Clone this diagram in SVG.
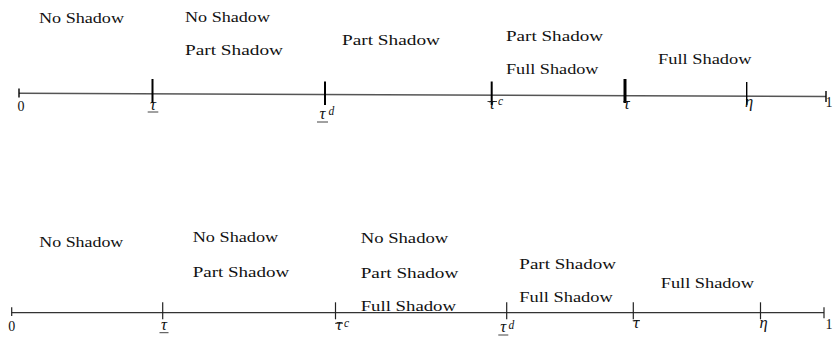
<svg xmlns="http://www.w3.org/2000/svg" width="833" height="344" viewBox="0 0 833 344">
<style>
text{font-family:"Liberation Serif","Times New Roman","DejaVu Serif",serif;fill:#111}
.t{font-size:15.5px}
.n{font-size:14px}
.m{font-style:italic;font-size:16.5px}
.s{font-style:italic;font-size:11.5px}
.ax{stroke:#555;stroke-width:1.6;fill:none}
.ax2{stroke:#333;stroke-width:1.3;fill:none}
.tk{stroke:#000;stroke-width:2}
.tk2{stroke:#222;stroke-width:1.2}
.dec{stroke:#111;stroke-width:0.8}
</style>
<rect width="833" height="344" fill="#fff"/>
<g id="connectors">
  <line class="ax" x1="19" y1="93.3" x2="826" y2="96.5"/>
  <line class="tk" x1="19" y1="88.5" x2="19" y2="97.5" style="stroke-width:1.4"/>
  <line class="tk" x1="826" y1="91" x2="826" y2="102" style="stroke-width:1.4"/>
  <line class="tk" x1="152.5" y1="79" x2="152.5" y2="103"/>
  <line class="tk" x1="325" y1="81.5" x2="325" y2="105"/>
  <line class="tk" x1="491.7" y1="81.5" x2="491.7" y2="105"/>
  <line class="tk" x1="625" y1="79" x2="625" y2="103" style="stroke-width:3"/>
  <line class="tk" x1="746.7" y1="82" x2="746.7" y2="105" style="stroke-width:1.4"/>
  <line class="ax2" x1="11.7" y1="312.7" x2="824" y2="312.7"/>
  <line class="tk2" x1="11.7" y1="307.3" x2="11.7" y2="316"/>
  <line class="tk2" x1="824" y1="307.3" x2="824" y2="318.3"/>
  <line class="tk2" x1="162.7" y1="302.3" x2="162.7" y2="319.3"/>
  <line class="tk2" x1="335.5" y1="302.3" x2="335.5" y2="319.3"/>
  <line class="tk2" x1="506.7" y1="302.3" x2="506.7" y2="319.3"/>
  <line class="tk2" x1="633.3" y1="302.3" x2="633.3" y2="319.3"/>
  <line class="tk2" x1="760.5" y1="302.3" x2="760.5" y2="319.3"/>
</g>
<g id="top-axis-labels">
  <text class="n" x="17.5" y="111">0</text>
  <g id="top-tau-low"><text class="m" x="153" y="109.5" text-anchor="middle">τ</text><line class="dec" x1="147.7" y1="112" x2="158.3" y2="112"/></g>
  <g id="top-tau-d"><text class="m" x="322.5" y="119" text-anchor="middle">τ</text><text class="s" x="328.5" y="115">d</text><line class="dec" x1="317" y1="122" x2="328" y2="122"/></g>
  <g id="top-taubar-c"><text class="m" x="492" y="108.5" text-anchor="middle">τ</text><text class="s" x="498" y="105">c</text><line class="dec" x1="487.5" y1="101.5" x2="497" y2="101.5"/></g>
  <g id="top-taubar"><text class="m" x="626.7" y="108.5" text-anchor="middle">τ</text><line class="dec" x1="623.3" y1="101.5" x2="630" y2="101.5"/></g>
  <text class="m" x="749" y="106.5" text-anchor="middle">η</text>
  <text class="n" x="825.5" y="106.5">1</text>
</g>
<g id="top-regions">
  <g id="top-r1"><text class="t" x="39" y="23.3" textLength="85" lengthAdjust="spacingAndGlyphs">No Shadow</text></g>
  <g id="top-r2"><text class="t" x="185" y="21.5" textLength="85" lengthAdjust="spacingAndGlyphs">No Shadow</text><text class="t" x="185" y="54.5" textLength="98" lengthAdjust="spacingAndGlyphs">Part Shadow</text></g>
  <g id="top-r3"><text class="t" x="342" y="45" textLength="98" lengthAdjust="spacingAndGlyphs">Part Shadow</text></g>
  <g id="top-r4"><text class="t" x="506" y="41" textLength="97" lengthAdjust="spacingAndGlyphs">Part Shadow</text><text class="t" x="506" y="74" textLength="92.5" lengthAdjust="spacingAndGlyphs">Full Shadow</text></g>
  <g id="top-r5"><text class="t" x="658" y="64" textLength="93.5" lengthAdjust="spacingAndGlyphs">Full Shadow</text></g>
</g>
<g id="bottom-axis-labels">
  <text class="n" x="8.3" y="331">0</text>
  <g id="bot-tau-low"><text class="m" x="164" y="330" text-anchor="middle">τ</text><line class="dec" x1="159.5" y1="332.7" x2="168.5" y2="332.7"/></g>
  <g id="bot-taubar-c"><text class="m" x="339" y="330" text-anchor="middle">τ</text><text class="s" x="344" y="326.5">c</text><line class="dec" x1="335" y1="323.3" x2="343" y2="323.3"/></g>
  <g id="bot-tau-d"><text class="m" x="503.3" y="331.5" text-anchor="middle">τ</text><text class="s" x="508.5" y="328.5">d</text><line class="dec" x1="498.3" y1="335" x2="508.3" y2="335"/></g>
  <g id="bot-taubar"><text class="m" x="636.3" y="328.3" text-anchor="middle">τ</text><line class="dec" x1="632.7" y1="320.7" x2="640" y2="320.7"/></g>
  <text class="m" x="763.5" y="328" text-anchor="middle">η</text>
  <text class="n" x="825.5" y="329">1</text>
</g>
<g id="bottom-regions">
  <g id="bot-r1"><text class="t" x="39.3" y="246.7" textLength="84" lengthAdjust="spacingAndGlyphs">No Shadow</text></g>
  <g id="bot-r2"><text class="t" x="192.7" y="241.7" textLength="85.5" lengthAdjust="spacingAndGlyphs">No Shadow</text><text class="t" x="192.7" y="276.7" textLength="96.6" lengthAdjust="spacingAndGlyphs">Part Shadow</text></g>
  <g id="bot-r3"><text class="t" x="360.7" y="243.3" textLength="87.6" lengthAdjust="spacingAndGlyphs">No Shadow</text><text class="t" x="360.7" y="277.7" textLength="97.6" lengthAdjust="spacingAndGlyphs">Part Shadow</text><text class="t" x="360.7" y="311.2" textLength="95.3" lengthAdjust="spacingAndGlyphs">Full Shadow</text></g>
  <g id="bot-r4"><text class="t" x="519.3" y="269" textLength="96.7" lengthAdjust="spacingAndGlyphs">Part Shadow</text><text class="t" x="519.3" y="301.7" textLength="93.4" lengthAdjust="spacingAndGlyphs">Full Shadow</text></g>
  <g id="bot-r5"><text class="t" x="660.7" y="288.3" textLength="93.3" lengthAdjust="spacingAndGlyphs">Full Shadow</text></g>
</g>
</svg>
